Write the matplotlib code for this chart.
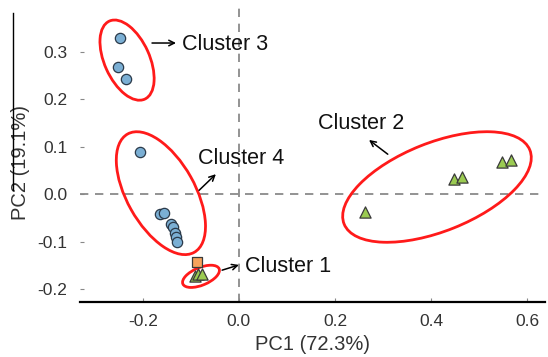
import matplotlib.pyplot as plt
from matplotlib.patches import Ellipse
from matplotlib.lines import Line2D

plt.rcParams['font.family'] = ['Liberation Sans', 'DejaVu Sans']

# PCA scores
c3_x = [-0.248, -0.252, -0.235]
c3_y = [0.328, 0.267, 0.242]
c4_x = [-0.206, -0.165, -0.156, -0.142, -0.138, -0.134, -0.131, -0.129]
c4_y = [0.088, -0.042, -0.040, -0.063, -0.070, -0.082, -0.090, -0.101]
sq_x = [-0.0875]
sq_y = [-0.143]
c1_x = [-0.092, -0.085, -0.077]
c1_y = [-0.172, -0.168, -0.168]
c2_x = [0.2625, 0.448, 0.465, 0.548, 0.566]
c2_y = [-0.038, 0.031, 0.036, 0.068, 0.072]

# cluster ellipses: (center x, center y, width, height, angle)
ellipses = [
    (-0.233, 0.282, 0.18, 0.094, -66),
    (-0.1625, 0.002, 0.285, 0.142, -61),
    (-0.079, -0.173, 0.082, 0.037, 23),
    (0.4125, 0.015, 0.417, 0.186, 22),
]

# label text, text position, arrow tail, arrow head
labels = [
    ('Cluster 3', (-0.119, 0.314), (-0.181, 0.318), (-0.131, 0.318)),
    ('Cluster 4', (-0.085, 0.076), (-0.083, 0.008), (-0.048, 0.042)),
    ('Cluster 1', (0.0125, -0.152), (-0.035, -0.160), (0.0, -0.149)),
    ('Cluster 2', (0.165, 0.149), (0.310, 0.084), (0.271, 0.114)),
]

fig = plt.figure(figsize=(5.48, 3.57), dpi=100)
ax = fig.add_axes([80 / 548, 55 / 357, 465 / 548, 297 / 357])
ax.set_xlim(-0.331, 0.6375)
ax.set_ylim(-0.227, 0.398)

ax.axhline(0, color='#808080', ls=(0, (5, 4)), lw=1.2, zorder=1)
ax.axvline(0, color='#808080', ls=(0, (5, 4)), lw=1.2, zorder=1)

for cx, cy, w, h, a in ellipses:
    ax.add_patch(Ellipse((cx, cy), w, h, angle=a, fill=False,
                         edgecolor='#ff1a1a', lw=2, zorder=2))

ax.scatter(c3_x, c3_y, s=55, marker='o', c='#7bafd4', edgecolors='#2b3a4a', lw=0.9, zorder=3)
ax.scatter(c4_x, c4_y, s=55, marker='o', c='#7bafd4', edgecolors='#2b3a4a', lw=0.9, zorder=3)
ax.scatter(sq_x, sq_y, s=60, marker='s', c='#f7a35c', edgecolors='#3a3a3a', lw=0.9, zorder=3)
ax.scatter(c1_x, c1_y, s=65, marker='^', c='#9bcb52', edgecolors='#3a3a3a', lw=0.9, zorder=3)
ax.scatter(c2_x, c2_y, s=65, marker='^', c='#9bcb52', edgecolors='#3a3a3a', lw=0.9, zorder=3)

for txt, tpos, tail, head in labels:
    ax.annotate('', xy=head, xytext=tail,
                arrowprops=dict(arrowstyle='->', color='black', lw=1.1,
                                shrinkA=0, shrinkB=0))
    ax.text(tpos[0], tpos[1], txt, fontsize=15.5, va='center', ha='left', color='#111111')

ax.set_xticks([-0.2, 0.0, 0.2, 0.4, 0.6])
ax.set_yticks([-0.2, -0.1, 0.0, 0.1, 0.2, 0.3])
ax.set_xticklabels(['-0.2', '0.0', '0.2', '0.4', '0.6'])
ax.set_yticklabels(['-0.2', '-0.1', '0.0', '0.1', '0.2', '0.3'])
ax.tick_params(axis='both', direction='in', length=3, color='#888888',
               labelsize=12.5, labelcolor='#333333', pad=9)
for side in ['top', 'right', 'left']:
    ax.spines[side].set_visible(False)
ax.spines['bottom'].set_linewidth(1.6)

ax.set_xlabel('PC1 (72.3%)', fontsize=14.5, color='#333333', labelpad=4)
ax.set_ylabel('PC2 (19.1%)', fontsize=14.5, color='#333333')
ax.yaxis.set_label_coords(-0.108, 0.47)

fig.add_artist(Line2D([12.5 / 548, 12.5 / 548], [1 - 13 / 357, 1 - 190 / 357],
                      color='black', lw=1))

fig.savefig('out.png', dpi=100)
